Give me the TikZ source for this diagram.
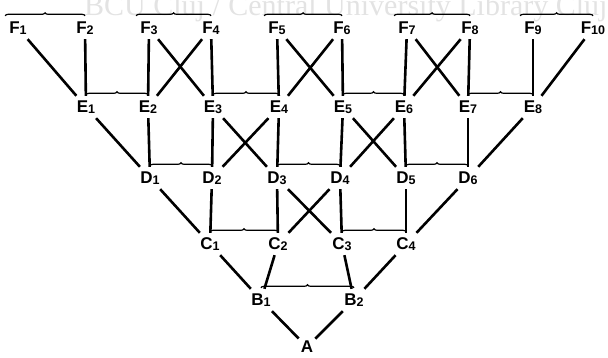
\documentclass[tikz,border=0pt]{standalone}
\usepackage{fontspec}
\setmainfont{Liberation Sans}
\newfontfamily\wmfont{Liberation Serif}
\usetikzlibrary{decorations.pathreplacing}
\newcommand{\ix}[1]{\raisebox{-1pt}{\fontsize{12.5}{12.5}\selectfont #1}}
\tikzset{
  vx/.style={rectangle,inner xsep=2pt,inner ysep=5pt,text height=12pt,text depth=0pt,
    font=\bfseries\fontsize{17}{17}\selectfont},
  link/.style={draw=black,line width=2.6pt},
  pair/.style={draw=black,line width=1.2pt,decorate,decoration={brace,amplitude=3pt,raise=1pt}},
  stamp/.style={font=\wmfont\fontsize{30}{30}\selectfont,text=black!11,anchor=base west,inner sep=0pt}
}
\begin{document}
\begin{tikzpicture}[x=1pt,y=1pt]
  \useasboundingbox (0,0) rectangle (608,358);
  \node[stamp] (wm) at (84,342) {BCU Cluj / Central University Library Cluj};
  % levels
  \foreach \i/\x in {1/18,2/85,3/149,4/211,5/277,6/342,7/407,8/470,9/533,10/593}
    {\node[vx] (F\i) at (\x,330) {F\ix{\i}};}
  \foreach \i/\x in {1/86,2/148,3/213,4/279,5/343,6/404,7/468,8/533}
    {\node[vx] (E\i) at (\x,251) {E\ix{\i}};}
  \foreach \i/\x in {1/150,2/212,3/277,4/340,5/406,6/468}
    {\node[vx] (D\i) at (\x,180) {D\ix{\i}};}
  \foreach \i/\x in {1/210,2/278,3/342,4/406}
    {\node[vx] (C\i) at (\x,114) {C\ix{\i}};}
  \node[vx] (B1) at (261,58) {B\ix{1}};
  \node[vx] (B2) at (354,58) {B\ix{2}};
  \node[vx] (A) at (307,11) {A};
  % links
  \foreach \u/\v in {F1/E1,F2/E1,F3/E2,F3/E3,F4/E2,F4/E3,F5/E4,F5/E5,F6/E4,F6/E5,
      F7/E6,F7/E7,F8/E6,F8/E7,F9/E8,F10/E8,
      E1/D1,E2/D1,E3/D2,E3/D3,E4/D2,E4/D3,E5/D4,E5/D5,E6/D4,E6/D5,E7/D6,E8/D6,
      D1/C1,D2/C1,D3/C2,D3/C3,D4/C2,D4/C3,D5/C4,D6/C4,
      C1/B1,C2/B1,C3/B2,C4/B2,B1/A,B2/A}
    {\draw[link] (\u)--(\v);}
  % pairs
  \foreach \u/\v in {F1/F2,F3/F4,F5/F6,F7/F8,F9/F10}
    {\draw[pair] ([xshift=-2pt]\u.north west)--(\v.north);}
  \foreach \u/\v in {E1/E2,E3/E4,E5/E6,E7/E8,D1/D2,D3/D4,D5/D6,C1/C2,C3/C4,B1/B2}
    {\draw[pair] (\u.north)--(\v.north);}
\end{tikzpicture}
\end{document}
